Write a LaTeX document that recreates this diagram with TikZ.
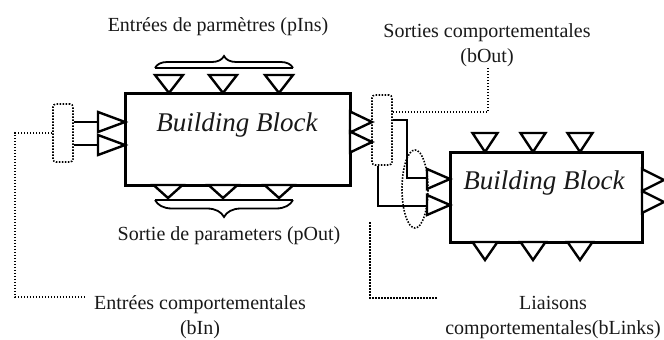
\documentclass[tikz,border=0pt]{standalone}
\usepackage{fontspec}
\setmainfont{Liberation Serif}
\usetikzlibrary{decorations.pathreplacing,calc,shapes.geometric}
\tikzset{
  block/.style={draw, line width=3pt, inner sep=0pt},
  bbtext/.style={font=\fontsize{27}{30}\selectfont\itshape, text=black!90, inner sep=0pt},
  lbl/.style={font=\fontsize{20}{25}\selectfont, text=black!90, align=center, inner sep=0pt},
  tri/.style={draw, line width=2.4pt, line join=miter, fill=white},
  wire/.style={draw, line width=2pt},
  ptr/.style={draw, line width=1.6pt, dash pattern=on 1.5pt off 1.5pt},
  drect/.style={draw, line width=1.6pt, dash pattern=on 1.5pt off 1.5pt, rounded corners=3pt, minimum width=20pt, inner sep=0pt},
  bracebar/.style={draw, line width=2pt},
  pics/trir/.style args={#1/#2}{code={
    \draw[tri] (0,0) -- (-#1,-#2/2) -- (-#1,#2/2) -- cycle;
    \coordinate (-base) at (-#1,0);}},
  pics/trid/.style args={#1/#2}{code={
    \draw[tri] (0,0) -- (-#2/2,-#1) -- (#2/2,-#1) -- cycle;
    \coordinate (-base) at (0,-#1);}}
}
\begin{document}
\begin{tikzpicture}[x=1pt,y=-1pt]
\useasboundingbox (0,0) rectangle (664,340);

% blocks
\node[block, minimum width=225pt, minimum height=92pt] (b1) at (237.5,139) {};
\node[bbtext] (t1) at (237,125) {Building Block};
\node[block, minimum width=192pt, minimum height=90pt] (b2) at (546,197) {};
\node[bbtext] (t2) at (544,183) {Building Block};

% block 1 parameter inputs (top) and outputs (bottom)
\pic (p1) at (169,93) {trid=18/28};
\pic (p2) at (223,93) {trid=18/28};
\pic (p3) at (279,93) {trid=18/28};
\pic (o1) at (168,198) {trid=13/29};
\pic (o2) at (223,198) {trid=13/29};
\pic (o3) at (279,198) {trid=13/29};

% braces block 1
\draw[bracebar] (155,68) -- (293,68);
\draw[line width=1.8pt, decorate, decoration={brace, amplitude=12pt}] (155,68) -- (293,68);
\draw[bracebar] (155,200) -- (293,200);
\draw[line width=1.8pt, decorate, decoration={brace, mirror, amplitude=17pt}] (155,200) -- (293,200);

% block 1 behavioural inputs (left)
\pic (a1) at (125,122) {trir=27/20};
\pic (a2) at (125,145) {trir=27/20};
% block 1 behavioural outputs (right)
\pic (c1) at (372,122) {trir=22/21};
\pic (c2) at (372,142) {trir=22/21};

% block 2 parameter ports
\pic (q1) at (485,152) {trid=19/25};
\pic (q2) at (533,152) {trid=19/25};
\pic (q3) at (580,152) {trid=19/25};
\pic (s1) at (485,260) {trid=18/25};
\pic (s2) at (533,260) {trid=18/25};
\pic (s3) at (580,260) {trid=18/25};

% block 2 behavioural inputs / outputs
\pic (d1) at (450,179) {trir=23/20};
\pic (d2) at (450,205) {trir=23/20};
\pic (e1) at (664,180) {trir=22/22};
\pic (e2) at (664,202) {trir=22/22};

% dotted groups
\node[drect, minimum height=58pt] (r1) at (63,133) {};
\node[drect, minimum height=70pt] (r2) at (382,130) {};

% wires
\draw[wire] (r1.east |- a1-base) -- (a1-base);
\draw[wire] (r1.east |- a2-base) -- (a2-base);
\draw[wire] ($(r2.east)+(0,-10)$) -| ($(d1-base)+(-20,-1)$) -- ($(d1-base)+(0,-1)$);
\draw[wire] ($(r2.south)+(-4,0)$) |- ($(d2-base)+(0,1)$);

% links ellipse
\node[draw, ellipse, line width=1.6pt, dash pattern=on 1.5pt off 1.5pt, minimum width=26pt, minimum height=78pt, inner sep=0pt] (el) at (415,189) {};

% pointers
\coordinate (k1) at (15,297);
\coordinate (k1e) at (85,297);
\draw[ptr] (r1.west) -| (k1) -- (k1e);
\coordinate (k2) at (488,68);
\draw[ptr] ($(r2.east)+(0,-18)$) -| (k2);
\coordinate (k3a) at (370,222);
\coordinate (k3b) at (438,298);
\draw[ptr] (k3a) |- (k3b);

% labels
\node[lbl] (lpin) at (218,27) {Entrées de parmètres (pIns)};
\node[lbl] (lpout) at (229,236) {Sortie de parameters (pOut)};
\node[lbl] (lbin) at (200,317) {Entrées comportementales\\(bIn)};
\node[lbl] (lbout) at (487,45) {Sorties comportementales\\(bOut)};
\node[lbl] (lbl) at (553,318) {Liaisons\\comportementales(bLinks)};
\end{tikzpicture}
\end{document}
